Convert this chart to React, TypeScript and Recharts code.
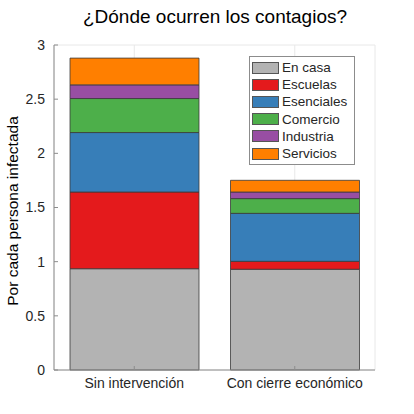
import { Bar, BarChart, CartesianGrid, XAxis, YAxis } from "recharts";

const scenarios = ["Sin intervención", "Con cierre económico"];
const enCasa = [0.935, 0.93];
const escuelas = [0.708, 0.073];
const esenciales = [0.549, 0.443];
const comercio = [0.314, 0.136];
const industria = [0.126, 0.061];
const servicios = [0.247, 0.108];
const yTicks = [0, 0.5, 1, 1.5, 2, 2.5, 3];

const series = [
  { key: "enCasa", name: "En casa", values: enCasa, fill: "#b3b3b3" },
  { key: "escuelas", name: "Escuelas", values: escuelas, fill: "#e41a1c" },
  { key: "esenciales", name: "Esenciales", values: esenciales, fill: "#377eb8" },
  { key: "comercio", name: "Comercio", values: comercio, fill: "#4daf4a" },
  { key: "industria", name: "Industria", values: industria, fill: "#984ea3" },
  { key: "servicios", name: "Servicios", values: servicios, fill: "#ff7f00" }
];

const data = scenarios.map((name, i) => {
  const row: Record<string, string | number> = { name };
  series.forEach((s) => (row[s.key] = s.values[i]));
  return row;
});

const font = "'Liberation Sans', Arial, sans-serif";
const axisColor = "#8c8c8c";
const textColor = "#262626";

function LegendBox() {
  return (
    <div
      style={{
        position: "absolute",
        left: 249,
        top: 56,
        boxSizing: "border-box",
        width: 106,
        border: `1px solid ${axisColor}`,
        background: "#fff",
        padding: "2px 2px 2px 2px",
        fontSize: 13.5,
        color: textColor
      }}
    >
      {series.map((s) => (
        <div key={s.key} style={{ display: "flex", alignItems: "center", height: 17.2 }}>
          <span
            style={{
              display: "inline-block",
              boxSizing: "border-box",
              width: 27,
              height: 12,
              background: s.fill,
              border: "1px solid #555",
              marginRight: 3
            }}
          />
          <span>{s.name}</span>
        </div>
      ))}
    </div>
  );
}

export default function App() {
  return (
    <div style={{ position: "absolute", left: 0, top: 0, width: 414, height: 414, background: "#fff", fontFamily: font }}>
      <div
        style={{
          position: "absolute",
          top: 6,
          left: 0,
          width: 430,
          textAlign: "center",
          fontSize: 19,
          color: "#000"
        }}
      >
        ¿Dónde ocurren los contagios?
      </div>
      <div
        style={{
          position: "absolute",
          left: 13,
          top: 211,
          transform: "translate(-50%, -50%) rotate(-90deg)",
          whiteSpace: "nowrap",
          fontSize: 15.5,
          color: "#000"
        }}
      >
        Por cada persona infectada
      </div>
      <BarChart width={414} height={414} data={data} margin={{ top: 45, right: 39, bottom: 14, left: 24 }}>
        <CartesianGrid stroke="#e8e8e8" />
        <XAxis
          dataKey="name"
          xAxisId="bottom"
          height={30}
          interval={0}
          stroke={axisColor}
          tickSize={-4}
          tickMargin={12}
          tick={{ fill: textColor, fontSize: 14 }}
        />
        <XAxis dataKey="name" xAxisId="top" orientation="top" height={0} interval={0} stroke={axisColor} tickSize={-4} tick={false} />
        <YAxis
          yAxisId="left"
          domain={[0, 3]}
          ticks={yTicks}
          width={30}
          stroke={axisColor}
          tickSize={-4}
          tickMargin={13}
          tick={{ fill: textColor, fontSize: 14 }}
          tickFormatter={(v) => String(v)}
        />
        <YAxis yAxisId="right" orientation="right" domain={[0, 3]} ticks={yTicks} width={0} stroke={axisColor} tickSize={-4} tick={false} />
        {series.map((s) => (
          <Bar
            key={s.key}
            dataKey={s.key}
            name={s.name}
            stackId="a"
            xAxisId="bottom"
            yAxisId="left"
            fill={s.fill}
            stroke="#3a3a3a"
            strokeWidth={0.8}
            barSize={129}
            isAnimationActive={false}
          />
        ))}
      </BarChart>
      <LegendBox />
    </div>
  );
}
